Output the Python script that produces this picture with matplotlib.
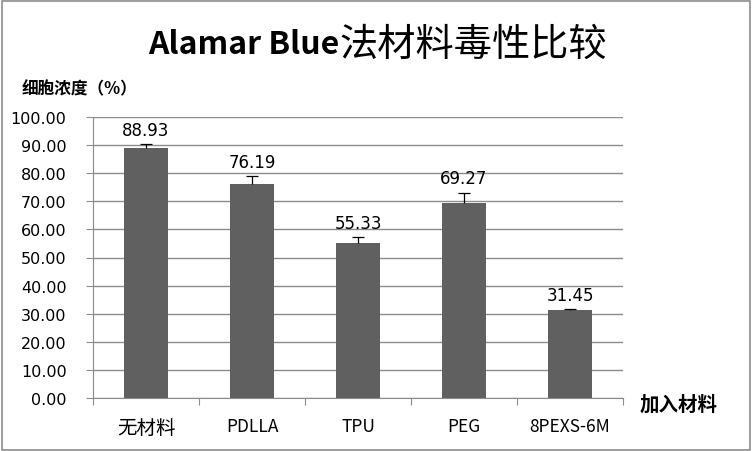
import matplotlib.pyplot as plt
import numpy as np
from matplotlib.patches import Rectangle

plt.rcParams['font.family'] = ['Noto Sans CJK SC', 'DejaVu Sans']
plt.rcParams['axes.unicode_minus'] = False

# 数据
categories = ['无材料', 'PDLLA', 'TPU', 'PEG', '8PEXS-6M']
values = [88.93, 76.19, 55.33, 69.27, 31.45]
errors = [1.4, 2.7, 1.8, 3.7, 0.2]

fig = plt.figure(figsize=(7.52, 4.52), dpi=100)
ax = fig.add_axes([93 / 752, 1 - 399 / 452, 530 / 752, 281 / 452])

x = np.arange(len(categories))
vals = np.array(values)
errs = np.array(errors)
ax.bar(x, vals, width=0.41, color='#606060', zorder=3)
# 只画上方误差线
ax.vlines(x, vals, vals + errs, color='black', linewidth=0.9, zorder=4)
ax.plot(x, vals + errs, linestyle='none', marker='_', markersize=8,
        markeredgewidth=0.9, color='black', zorder=4)

for xi, v, e in zip(x, values, errors):
    ax.annotate(f'{v:.2f}', (xi, v + e), xytext=(0, 4), textcoords='offset points',
                ha='center', va='bottom', fontsize=12, family=['DejaVu Sans'])

ax.set_xlim(-0.5, len(categories) - 0.5)
ax.set_ylim(0, 100)
ax.set_yticks(np.arange(0, 101, 10))
ax.set_yticklabels([f'{t:.2f}' for t in np.arange(0, 101, 10)], fontsize=11.5,
                   family=['DejaVu Sans'])
ax.yaxis.grid(True, color='#8c8c8c', linewidth=1, zorder=0)
ax.set_axisbelow(True)

ax.set_xticks(np.arange(-0.5, len(categories), 1.0))
ax.set_xticklabels([])
ax.set_xticks(x, minor=True)
ax.set_xticklabels(categories, minor=True, fontsize=12.5)
ax.get_xticklabels(minor=True)[0].set_fontsize(14)
ax.tick_params(axis='x', which='minor', length=0, pad=14)
ax.tick_params(axis='x', which='major', length=5, color='#8c8c8c', direction='out')
ax.tick_params(axis='y', length=5, color='#8c8c8c', direction='out', pad=14)

for s in ['top', 'right']:
    ax.spines[s].set_visible(False)
for s in ['left', 'bottom']:
    ax.spines[s].set_color('#8c8c8c')

# 标题: 英文粗体 + 中文常规
t1 = fig.text(148 / 752, 1 - 45 / 452, 'Alamar Blue', ha='left', va='center',
              fontsize=23, fontweight='bold')
fig.canvas.draw()
bb = t1.get_window_extent()
fig.text(bb.x1 / fig.bbox.width, 1 - 45 / 452, '法材料毒性比较', ha='left', va='center',
         fontsize=27.5)

fig.text(22 / 752, 1 - 89 / 452, '细胞浓度（%）', ha='left', va='center',
         fontsize=12, fontweight='bold')
fig.text(640 / 752, 1 - 405 / 452, '加入材料', ha='left', va='center',
         fontsize=14, fontweight='bold')

fig.patches.append(Rectangle((0.002, 0.003), 0.995, 0.993, transform=fig.transFigure,
                             fill=False, edgecolor='#8c8c8c', linewidth=1.2))

fig.savefig('out.png', dpi=100)
